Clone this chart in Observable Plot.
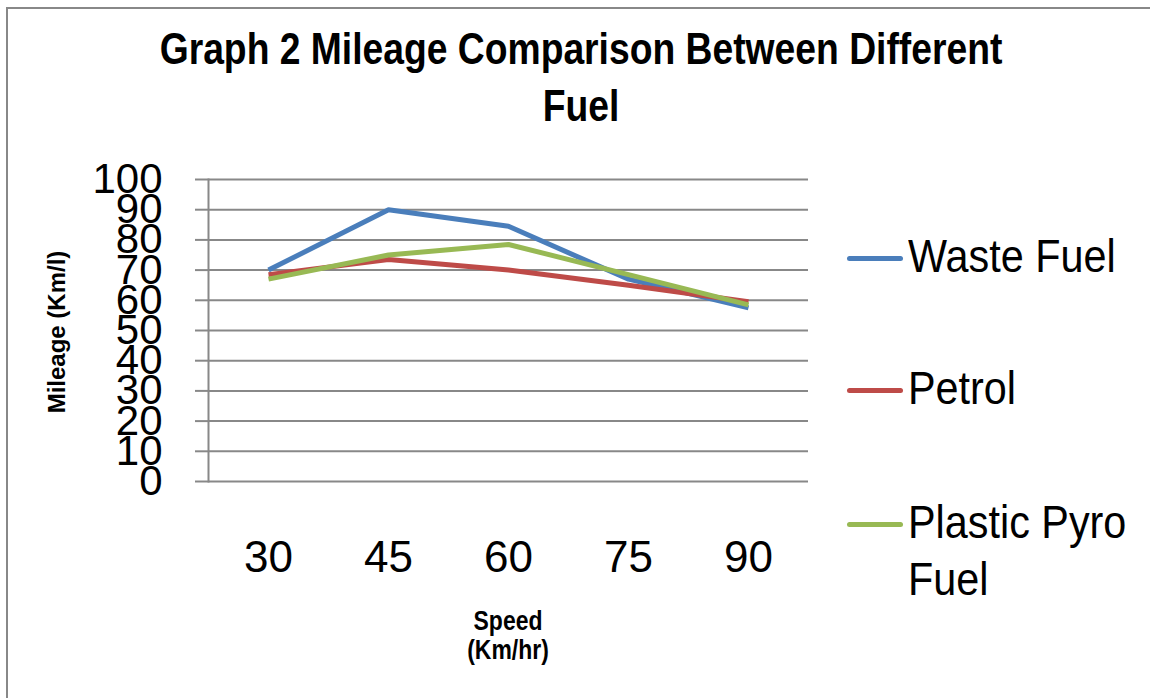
<!DOCTYPE html>
<html>
<head>
<meta charset="utf-8">
<script src="https://cdn.jsdelivr.net/npm/d3@7"></script>
<script src="https://cdn.jsdelivr.net/npm/@observablehq/plot@0.6"></script>
<style>
  body { margin: 0; background: #fff; }
  #wrap { position: relative; width: 1150px; height: 698px; overflow: hidden; background: #fff; }
  #wrap svg { position: absolute; left: 0; top: 0; background: transparent; }
  #frame { position: absolute; left: 6px; top: 7px; width: 1300px; height: 900px; border: 2px solid #888; box-sizing: border-box; pointer-events: none; }
  .sans { font-family: "Liberation Sans", Arial, sans-serif; }
  #title { position: absolute; left: 0; top: 20px; width: 1162px; text-align: center; font-weight: bold; font-size: 45px; line-height: 57px; color: #000; transform: scaleX(0.828); transform-origin: 581px 0; }
  #ylabel { position: absolute; left: 57px; top: 332px; transform: translate(-50%, -50%) rotate(-90deg); white-space: nowrap; font-weight: bold; font-size: 24px; color: #000; }
  #xlabel { position: absolute; left: 358px; top: 607px; width: 300px; text-align: center; font-weight: bold; font-size: 27px; line-height: 29px; color: #000; transform: scaleX(0.85); transform-origin: 150px 0; }
  .leg-line { position: absolute; left: 847px; width: 56px; height: 5px; border-radius: 3px; }
  .leg-text { position: absolute; left: 908px; font-size: 47px; line-height: 57px; color: #000; white-space: nowrap; transform: scaleX(0.88); transform-origin: 0 0; }
</style>
</head>
<body>
<div id="wrap">
  <div id="title" class="sans">Graph 2 Mileage Comparison Between Different<br>Fuel</div>
  <div id="ylabel" class="sans">Mileage (Km/l)</div>
  <div id="xlabel" class="sans">Speed<br>(Km/hr)</div>
  <div id="frame"></div>
</div>
<script>
// ---- Data ----
const speeds = [30, 45, 60, 75, 90];
const seriesNames = ["Waste Fuel", "Petrol", "Plastic Pyro Fuel"];
const seriesColors = ["#4a7ebb", "#be4b48", "#98b954"];
const wasteFuel = [70, 90, 84.5, 67, 57.5];
const petrol = [68.5, 73.5, 70, 65, 59.5];
const plasticPyro = [67, 75, 78.5, 68.5, 58.5];
const yTicks = [0, 10, 20, 30, 40, 50, 60, 70, 80, 90, 100];
const legendLines = [["Waste Fuel"], ["Petrol"], ["Plastic Pyro", "Fuel"]];

const seriesValues = [wasteFuel, petrol, plasticPyro];
const rows = [];
seriesNames.forEach((name, i) => {
  speeds.forEach((s, j) => rows.push({ series: name, speed: s, value: seriesValues[i][j] }));
});

const sans = '"Liberation Sans", Arial, sans-serif';

const chart = Plot.plot({
  width: 1150,
  height: 698,
  marginLeft: 208,
  marginRight: 342,
  marginTop: 179,
  marginBottom: 217,
  style: { fontFamily: sans, background: "transparent", color: "#000" },
  x: { type: "point", domain: speeds, padding: 0.5 },
  y: { domain: [0, 100] },
  color: { domain: seriesNames, range: seriesColors },
  marks: [
    Plot.ruleY(yTicks, { stroke: "#888", strokeWidth: 2 }),
    Plot.axisY({ ticks: yTicks, tickSize: 13, tickPadding: 33, fontSize: 42, stroke: "#888", strokeWidth: 2, fill: "#000", label: null, fontFamily: sans }),
    Plot.axisX({ tickSize: 0, tickPadding: 59, fontSize: 44, fill: "#000", label: null, fontFamily: sans }),
    Plot.frame({ anchor: "left", stroke: "#888", strokeWidth: 2 }),
    Plot.line(rows, { x: "speed", y: "value", z: "series", stroke: "series", strokeWidth: 5, strokeLinejoin: "round", strokeLinecap: "butt" })
  ]
});

const wrap = document.getElementById("wrap");
wrap.insertBefore(chart, wrap.firstChild);

// ---- Legend ----
const legendBaselines = [272, 404, 538];
legendLines.forEach((lines, i) => {
  const line = document.createElement("div");
  line.className = "leg-line";
  line.style.background = seriesColors[i];
  line.style.top = (legendBaselines[i] - 14 - 2.5) + "px";
  wrap.appendChild(line);
  const txt = document.createElement("div");
  txt.className = "leg-text sans";
  txt.style.top = (legendBaselines[i] - 45) + "px";
  txt.innerHTML = lines.join("<br>");
  wrap.appendChild(txt);
});
</script>
</body>
</html>
